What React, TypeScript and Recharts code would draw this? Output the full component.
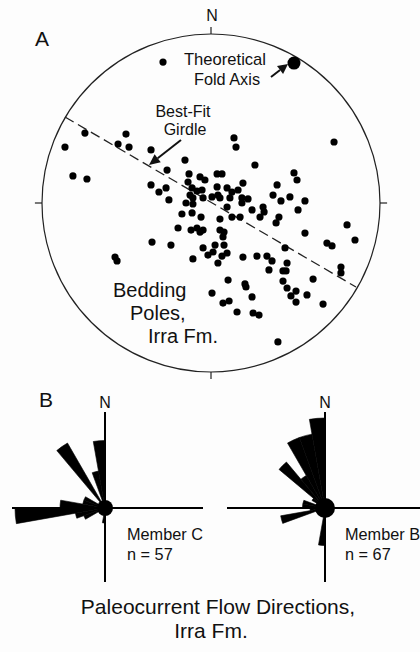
import React from 'react';
import {
  ScatterChart, Scatter, XAxis, YAxis, ReferenceLine, ReferenceDot,
  PieChart, Pie,
} from 'recharts';

// ---- Stereonet (A): projected bedding poles, unit-circle coordinates ----
const poleX = [
  -0.284, -0.746, -0.503, -0.864, -0.550, -0.485, -0.355, 0.136, 0.148, 0.728,
  -0.154, 0.260, -0.260, -0.817, -0.734, -0.130, -0.065, -0.036, 0.036, 0.065,
  0.491, 0.509, 0.189, 0.391, -0.355, -0.308, -0.266, -0.136, -0.112, -0.083,
  -0.053, 0.036, 0.041, 0.095, 0.124, 0.160, -0.124, -0.107, -0.047, 0.006,
  0.053, 0.112, 0.183, 0.219, -0.249, -0.148, -0.107, 0.095, 0.183, 0.243,
  0.308, 0.367, 0.467, 0.414, 0.556, 0.515, -0.172, -0.112, -0.059, 0.053,
  0.124, 0.172, 0.290, 0.314, 0.402, 0.385, 0.805, 0.852, 0.686, 0.716,
  0.556, -0.195, -0.118, -0.083, -0.065, -0.047, 0.053, 0.077, 0.071, -0.349,
  -0.237, -0.047, 0.024, 0.077, -0.018, 0.012, 0.065, 0.095, -0.107, 0.041,
  0.189, 0.272, 0.331, 0.361, 0.438, 0.450, 0.343, 0.426, 0.444, 0.769,
  0.769, -0.568, -0.556, 0.101, 0.201, 0.207, 0.426, 0.604, 0.450, 0.503,
  0.473, 0.568, 0.006, 0.071, 0.107, 0.243, 0.503, 0.663, 0.154, 0.249,
  0.284, 0.396,
];
const poleY = [
  0.834, 0.414, 0.408, 0.331, 0.349, 0.331, 0.314, 0.385, 0.331, 0.361,
  0.254, 0.225, 0.195, 0.160, 0.142, 0.172, 0.154, 0.136, 0.172, 0.172,
  0.178, 0.136, 0.118, 0.107, 0.107, 0.065, 0.089, 0.124, 0.089, 0.071,
  0.077, 0.095, 0.047, 0.089, 0.065, 0.077, 0.047, 0.030, 0.030, 0.036,
  0.030, 0.030, 0.030, 0.024, 0.018, 0.000, -0.006, -0.024, 0.000, -0.041,
  -0.024, 0.047, 0.036, 0.012, 0.012, -0.041, -0.065, -0.059, -0.083, -0.095,
  -0.083, -0.083, -0.083, -0.053, -0.083, -0.118, -0.130, -0.219, -0.237, -0.254,
  -0.178, -0.148, -0.160, -0.148, -0.172, -0.160, -0.160, -0.172, -0.201, -0.231,
  -0.249, -0.266, -0.249, -0.249, -0.308, -0.290, -0.314, -0.296, -0.331, -0.355,
  -0.320, -0.314, -0.314, -0.343, -0.266, -0.355, -0.396, -0.402, -0.402, -0.379,
  -0.414, -0.320, -0.343, -0.456, -0.479, -0.497, -0.462, -0.450, -0.503, -0.521,
  -0.550, -0.544, -0.533, -0.592, -0.580, -0.556, -0.586, -0.598, -0.645, -0.651,
  -0.663, -0.822,
];
const foldAxisX = [0.491];
const foldAxisY = [0.828];
const girdleX = [-0.864, 0.858];
const girdleY = [0.509, -0.497];

// ---- Rose diagrams (B): paleocurrent counts per 10° azimuth bin ----
const azimuthBins = [
  0, 10, 20, 30, 40, 50, 60, 70, 80, 90, 100, 110, 120, 130, 140, 150, 160, 170,
  180, 190, 200, 210, 220, 230, 240, 250, 260, 270, 280, 290, 300, 310, 320, 330, 340, 350,
];
const binWidth = 10;
const memberC = [
  0, 0, 0, 0, 0, 0, 0, 0, 0, 0,
  0, 0, 0, 0, 0, 0, 0, 0, 2, 0,
  0, 0, 0, 0, 3, 4, 12, 6, 3, 3,
  0, 0, 10, 0, 5, 9,
];
const memberB = [
  0, 0, 0, 0, 0, 0, 0, 0, 0, 0,
  0, 0, 0, 0, 0, 0, 0, 0, 5, 1,
  0, 0, 0, 0, 0, 6, 2, 3, 3, 0,
  2, 8, 5, 10, 10, 12,
];
const ROSE_PX_PER_COUNT = 7.5;

const poleData = poleX.map((x, i) => ({ x, y: poleY[i] }));
const foldData = foldAxisX.map((x, i) => ({ x, y: foldAxisY[i] }));
const girdleSeg = girdleX.map((x, i) => ({ x, y: girdleY[i] }));
const makeRose = (counts: number[]) =>
  azimuthBins
    .map((az, i) => ({ az, count: counts[i], slice: 1 }))
    .filter((d) => d.count > 0);
const roseC = makeRose(memberC);
const roseB = makeRose(memberB);

const FONT = '"Liberation Sans", Arial, Helvetica, sans-serif';
const INK = '#111';

const Arrow = ({ x1, y1, x2, y2, len = 10, half = 4.5 }: any) => {
  const dx = x2 - x1, dy = y2 - y1;
  const d = Math.hypot(dx, dy);
  const ux = dx / d, uy = dy / d;
  const bx = x2 - ux * len, by = y2 - uy * len;
  const px = -uy, py = ux;
  return (
    <g>
      <line x1={x1} y1={y1} x2={bx} y2={by} stroke={INK} strokeWidth={2} />
      <polygon
        points={`${x2},${y2} ${bx + px * half},${by + py * half} ${bx - px * half},${by - py * half}`}
        fill={INK}
      />
    </g>
  );
};

// Each petal: one-slice Pie spanning its azimuth bin (compass azimuth -> math angle)
const Rose = ({ data }: any) => (
  <PieChart width={210} height={200} margin={{ top: 0, right: 0, bottom: 0, left: 0 }}>
    {data.map((d: any) => (
      <Pie
        key={d.az}
        data={[d]}
        dataKey="slice"
        cx={105}
        cy={108}
        innerRadius={0}
        outerRadius={d.count * ROSE_PX_PER_COUNT}
        startAngle={90 - d.az}
        endAngle={90 - d.az - binWidth}
        fill="#000"
        stroke="#000"
        strokeWidth={0.6}
        isAnimationActive={false}
      />
    ))}
  </PieChart>
);

export default function App() {
  return (
    <div
      style={{
        position: 'absolute', left: 0, top: 0, width: 420, height: 652,
        background: '#fdfdfd', overflow: 'hidden', fontFamily: FONT,
      }}
    >
      {/* Stereonet */}
      <div style={{ position: 'absolute', left: 22, top: 14 }}>
        <ScatterChart width={378} height={378} margin={{ top: 20, right: 20, bottom: 20, left: 20 }}>
          <XAxis type="number" dataKey="x" domain={[-1, 1]} hide />
          <YAxis type="number" dataKey="y" domain={[-1, 1]} hide />
          <ReferenceDot x={0} y={0} r={169} fill="none" stroke="#222" strokeWidth={1.2} ifOverflow="visible" />
          <ReferenceLine segment={[{ x: 0, y: 1 }, { x: 0, y: 1.042 }]} stroke="#222" strokeWidth={1.2} ifOverflow="visible" />
          <ReferenceLine segment={[{ x: 0, y: -1 }, { x: 0, y: -1.042 }]} stroke="#222" strokeWidth={1.2} ifOverflow="visible" />
          <ReferenceLine segment={[{ x: -1, y: 0 }, { x: -1.042, y: 0 }]} stroke="#222" strokeWidth={1.2} ifOverflow="visible" />
          <ReferenceLine segment={[{ x: 1, y: 0 }, { x: 1.042, y: 0 }]} stroke="#222" strokeWidth={1.2} ifOverflow="visible" />
          <ReferenceLine segment={girdleSeg} stroke="#222" strokeWidth={1.3} strokeDasharray="10 5" ifOverflow="visible" />
          <Scatter
            data={poleData}
            isAnimationActive={false}
            shape={(p: any) => <circle cx={p.cx} cy={p.cy} r={3.6} fill="#000" />}
          />
          <Scatter
            data={foldData}
            isAnimationActive={false}
            shape={(p: any) => <circle cx={p.cx} cy={p.cy} r={6.5} fill="#000" />}
          />
        </ScatterChart>
      </div>

      {/* Rose diagrams */}
      <div style={{ position: 'absolute', left: 0, top: 400 }}>
        <Rose data={roseC} />
      </div>
      <div style={{ position: 'absolute', left: 220, top: 400 }}>
        <Rose data={roseB} />
      </div>

      {/* Annotations */}
      <svg width={420} height={652} style={{ position: 'absolute', left: 0, top: 0, pointerEvents: 'none' }}>
        <g fontFamily={FONT} fill={INK}>
          <text x={212} y={21} fontSize={16} textAnchor="middle">N</text>
          <text x={35} y={46} fontSize={21}>A</text>
          <text x={225} y={65} fontSize={16.6} textAnchor="middle">Theoretical</text>
          <text x={227} y={85} fontSize={16.3} textAnchor="middle">Fold Axis</text>
          <text x={183} y={117} fontSize={16} textAnchor="middle">Best-Fit</text>
          <text x={185} y={135} fontSize={16} textAnchor="middle">Girdle</text>
          <text x={113} y={297} fontSize={20}>Bedding</text>
          <text x={130} y={320} fontSize={20}>Poles,</text>
          <text x={148} y={343} fontSize={20}>Irra Fm.</text>

          <text x={39} y={407} fontSize={21}>B</text>
          <text x={105} y={408} fontSize={16} textAnchor="middle">N</text>
          <text x={325} y={408} fontSize={16} textAnchor="middle">N</text>
          <text x={127} y={540} fontSize={16.3}>Member C</text>
          <text x={127} y={560} fontSize={16.3}>n = 57</text>
          <text x={345} y={540} fontSize={16.3}>Member B</text>
          <text x={345} y={560} fontSize={16.3}>n = 67</text>
          <text x={218} y={614} fontSize={21} textAnchor="middle">Paleocurrent Flow Directions,</text>
          <text x={211} y={638} fontSize={21} textAnchor="middle">Irra Fm.</text>
        </g>
        <Arrow x1={271} y1={77} x2={288} y2={64} len={10} half={5} />
        <Arrow x1={181} y1={140} x2={149} y2={165} len={11} half={5} />

        {/* rose axes */}
        <line x1={105} y1={412} x2={105} y2={582} stroke="#000" strokeWidth={2} />
        <line x1={12} y1={508} x2={203} y2={508} stroke="#000" strokeWidth={2} />
        <circle cx={105} cy={508} r={8} fill="#000" />
        <line x1={325} y1={412} x2={325} y2={582} stroke="#000" strokeWidth={2} />
        <line x1={227} y1={508} x2={420} y2={508} stroke="#000" strokeWidth={2} />
        <circle cx={325} cy={508} r={10} fill="#000" />
      </svg>
    </div>
  );
}
